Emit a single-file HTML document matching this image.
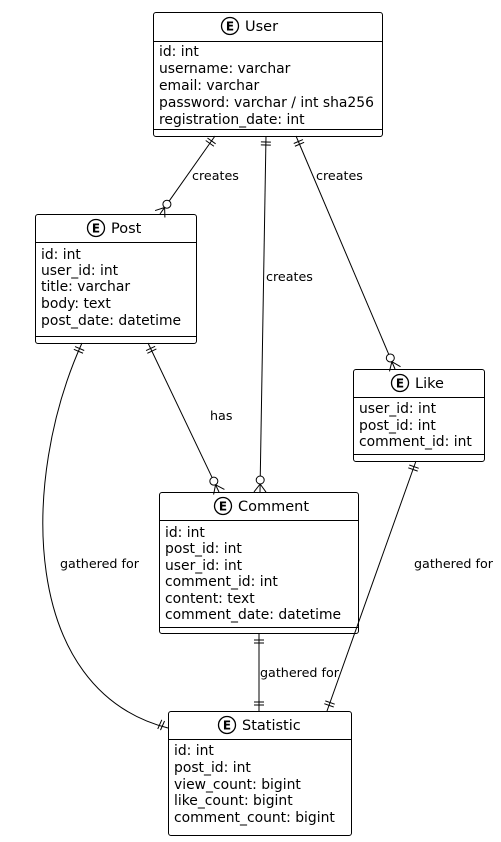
<!DOCTYPE html>
<html><head><meta charset="utf-8"><style>
html,body{margin:0;padding:0;background:#fff;width:501px;height:842px;overflow:hidden}
svg{display:block}
text{font-family:"DejaVu Sans","Liberation Sans",sans-serif;fill:#000}
.f{font-size:13.9px}
.t{font-size:14.5px}
.l{font-size:12.7px}
</style></head><body>
<svg id="s" width="501" height="842" viewBox="0 0 501 842" xmlns="http://www.w3.org/2000/svg" fill="none" stroke="#000" stroke-width="1">
<!-- User -->
<rect x="153.5" y="12.5" width="229" height="124" rx="2.5" fill="#fff"/>
<line x1="153.5" y1="41.5" x2="382.5" y2="41.5"/><line x1="153.5" y1="129.5" x2="382.5" y2="129.5"/>
<circle cx="230" cy="26" r="8.5" stroke-width="1.3"/><text x="230" y="30.5" text-anchor="middle" font-weight="bold" font-size="12" font-family="Liberation Serif,serif" stroke="none">E</text>
<text class="t" x="245" y="31" stroke="none">User</text>
<g stroke="none" class="f"><text x="159" y="56">id: int</text><text x="159" y="73">username: varchar</text><text x="159" y="90">email: varchar</text><text x="159" y="107">password: varchar / int sha256</text><text x="159" y="124">registration_date: int</text></g>
<!-- Post -->
<rect x="35.5" y="214.5" width="161" height="129" rx="2.5" fill="#fff"/>
<line x1="35.5" y1="242.5" x2="196.5" y2="242.5"/><line x1="35.5" y1="336.5" x2="196.5" y2="336.5"/>
<circle cx="96" cy="228" r="8.5" stroke-width="1.3"/><text x="96" y="232.5" text-anchor="middle" font-weight="bold" font-size="12" font-family="Liberation Serif,serif" stroke="none">E</text>
<text class="t" x="111" y="233" stroke="none">Post</text>
<g stroke="none" class="f"><text x="41" y="259">id: int</text><text x="41" y="275">user_id: int</text><text x="41" y="291">title: varchar</text><text x="41" y="308">body: text</text><text x="41" y="325">post_date: datetime</text></g>
<!-- Like -->
<rect x="353.5" y="369.5" width="131" height="92" rx="2.5" fill="#fff"/>
<line x1="353.5" y1="397.5" x2="484.5" y2="397.5"/><line x1="353.5" y1="454.5" x2="484.5" y2="454.5"/>
<circle cx="400" cy="383" r="8.5" stroke-width="1.3"/><text x="400" y="387.5" text-anchor="middle" font-weight="bold" font-size="12" font-family="Liberation Serif,serif" stroke="none">E</text>
<text class="t" x="415" y="388" stroke="none">Like</text>
<g stroke="none" class="f"><text x="359" y="413">user_id: int</text><text x="359" y="430">post_id: int</text><text x="359" y="446">comment_id: int</text></g>
<!-- Comment -->
<rect x="159.5" y="492.5" width="199" height="141" rx="2.5" fill="#fff"/>
<line x1="159.5" y1="520.5" x2="358.5" y2="520.5"/><line x1="159.5" y1="627.5" x2="358.5" y2="627.5"/>
<circle cx="223" cy="506" r="8.5" stroke-width="1.3"/><text x="223" y="510.5" text-anchor="middle" font-weight="bold" font-size="12" font-family="Liberation Serif,serif" stroke="none">E</text>
<text class="t" x="238" y="511" stroke="none">Comment</text>
<g stroke="none" class="f"><text x="165" y="537">id: int</text><text x="165" y="553">post_id: int</text><text x="165" y="570">user_id: int</text><text x="165" y="586">comment_id: int</text><text x="165" y="603">content: text</text><text x="165" y="619">comment_date: datetime</text></g>
<!-- Statistic -->
<rect x="168.5" y="711.5" width="183" height="124" rx="2.5" fill="#fff"/>
<line x1="168.5" y1="739.5" x2="351.5" y2="739.5"/>
<circle cx="227" cy="725" r="8.5" stroke-width="1.3"/><text x="227" y="729.5" text-anchor="middle" font-weight="bold" font-size="12" font-family="Liberation Serif,serif" stroke="none">E</text>
<text class="t" x="242" y="730" stroke="none">Statistic</text>
<g stroke="none" class="f"><text x="174" y="755">id: int</text><text x="174" y="772">post_id: int</text><text x="174" y="789">view_count: bigint</text><text x="174" y="805">like_count: bigint</text><text x="174" y="822">comment_count: bigint</text></g>
<!-- labels -->
<g stroke="none" class="l"><text x="192" y="180">creates</text><text x="266" y="281">creates</text><text x="316" y="180">creates</text><text x="210" y="420">has</text><text x="60" y="568">gathered for</text><text x="260" y="677">gathered for</text><text x="414" y="568">gathered for</text></g>
<g id="c"></g>
</svg>
<script>
var g=document.getElementById('c'),NS='http://www.w3.org/2000/svg';
function L(a,b,c,d){var e=document.createElementNS(NS,'line');e.setAttribute('x1',a);e.setAttribute('y1',b);e.setAttribute('x2',c);e.setAttribute('y2',d);g.appendChild(e);}
function C(x,y){var e=document.createElementNS(NS,'circle');e.setAttribute('cx',x);e.setAttribute('cy',y);e.setAttribute('r',4);e.setAttribute('fill','#fff');g.appendChild(e);}
function P(d){var e=document.createElementNS(NS,'path');e.setAttribute('d',d);g.appendChild(e);}
function bars(px,py,qx,qy){var dx=qx-px,dy=qy-py,n=Math.hypot(dx,dy);dx/=n;dy/=n;var ox=-dy,oy=dx;[6,9].forEach(function(k){var cx=px+dx*k,cy=py+dy*k;L(cx-ox*5,cy-oy*5,cx+ox*5,cy+oy*5);});}
function many(px,py,qx,qy){var dx=qx-px,dy=qy-py,n=Math.hypot(dx,dy);dx/=n;dy/=n;var ox=-dy,oy=dx;var tx=px+dx*8,ty=py+dy*8;L(tx,ty,px,py);L(tx,ty,px+ox*6,py+oy*6);L(tx,ty,px-ox*6,py-oy*6);C(px+dx*12,py+dy*12);return [px+dx*16,py+dy*16];}
function rel(ax,ay,bx,by){bars(ax,ay,bx,by);var e=many(bx,by,ax,ay);L(ax,ay,e[0],e[1]);}
rel(215,136,160,214);
rel(266,136,260,492);
rel(296,136,395,369);
rel(148,343,219,492);
L(259,634,259,711);bars(259,634,259,711);bars(259,711,259,634);
L(416,461,327,711);bars(416,461,327,711);bars(327,711,416,461);
P('M82,343 C20,480 20,690 168,728');bars(82,343,66,380);bars(168,728,150,720);
</script>
</body></html>
